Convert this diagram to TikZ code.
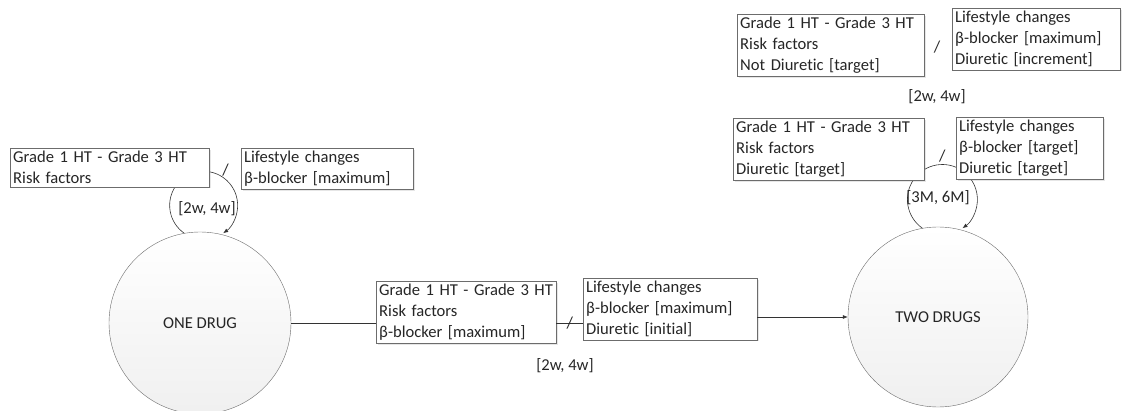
\documentclass[tikz,border=0pt]{standalone}
\usepackage{fontspec}
\setmainfont{Carlito}[Ligatures=NoCommon]
\usetikzlibrary{arrows.meta, positioning, calc, shadows}

\begin{document}
\begin{tikzpicture}[x=1pt, y=1pt,
    txt/.style={font=\fontsize{16.6}{21}\selectfont, text=black!85},
    state/.style={txt, circle, draw=gray!85!black, top color=white, bottom color=gray!12, inner sep=0pt},
    cond/.style={txt, draw=gray!85!black, fill=white, anchor=north west, inner sep=3pt, align=left,
        drop shadow={opacity=0.2, shadow xshift=1.5pt, shadow yshift=-1.5pt}},
    lbl/.style={txt, inner sep=1pt},
    conn/.style={draw=gray!40!black, line width=0.6pt},
    tip/.style={-{Latex[length=5pt, width=4pt]}}
]
    \useasboundingbox (0,0) rectangle (1122,410);

    \node[state, minimum size=182pt] (onedrug) at (200,87) {ONE DRUG};
    \node[state, minimum size=180pt] (twodrugs) at (938,93) {TWO DRUGS};

    % self loop on one drug
    \draw[conn, tip] (onedrug.100) arc[start angle=235, end angle=-55, radius=34]
        node[lbl, pos=0.62, anchor=south west, xshift=-2pt] (slashA) {/};
    \node[lbl] (waitA) at (207,201) {[2w, 4w]};
    \node[cond, text width=193pt] (boxA) at (10,262) {Grade 1 HT - Grade 3 HT\\Risk factors};
    \node[cond, text width=166pt] (boxB) at (241,262) {Lifestyle changes\\β-blocker [maximum]};

    % self loop on two drugs
    \draw[conn, tip] (twodrugs.100) arc[start angle=235, end angle=-55, radius=35]
        node[lbl, pos=0.5, anchor=south, yshift=1pt] (slashE) {/};
    \node[lbl] (waitE) at (938,212) {[3M, 6M]};
    \node[cond, text width=185pt] (boxE) at (733,292) {Grade 1 HT - Grade 3 HT\\Risk factors\\Diuretic [target]};
    \node[cond, text width=141pt] (boxF) at (956,293) {Lifestyle changes\\β-blocker [target]\\Diuretic [target]};

    \node[cond, text width=181pt] (boxC) at (737,396) {Grade 1 HT - Grade 3 HT\\Risk factors\\Not Diuretic [target]};
    \node[cond, text width=162pt] (boxD) at (952,402) {Lifestyle changes\\β-blocker [maximum]\\Diuretic [increment]};
    \node[lbl] (slashC) at (937,363) {/};
    \node[lbl] (waitC) at (937,313) {[2w, 4w]};

    % one drug -> two drugs
    \node[cond, text width=174pt] (box2) at (376,129) {Grade 1 HT - Grade 3 HT\\Risk factors\\β-blocker [maximum]};
    \node[cond, text width=168pt] (box3) at (583,132) {Lifestyle changes\\β-blocker [maximum]\\Diuretic [initial]};
    \draw[conn] (onedrug.east) -- (onedrug.east -| box2.west);
    \draw[conn] (box2.east |- onedrug.east) -- (box3.west |- onedrug.east)
        node[lbl, midway] (slash2) {/};
    \draw[conn, tip] (box3.east |- twodrugs.west) -- (twodrugs.west);
    \node[lbl] (wait2) at (565,44) {[2w, 4w]};
\end{tikzpicture}
\end{document}
